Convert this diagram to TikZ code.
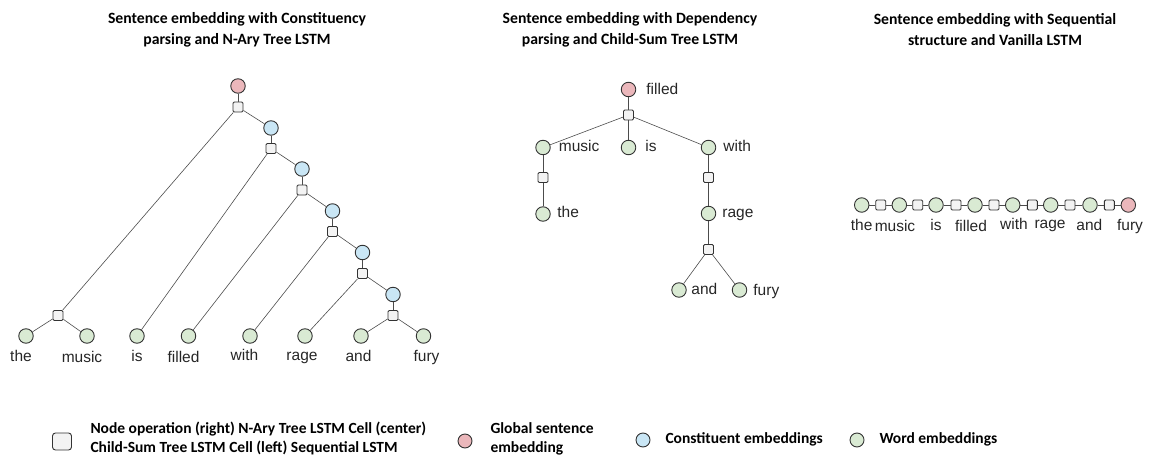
\documentclass[tikz,border=0pt]{standalone}
\usepackage{fontspec}
\setmainfont{Carlito}
\newfontfamily\labfont{Liberation Sans}
\definecolor{wordg}{HTML}{D9EAD3}
\definecolor{constb}{HTML}{C9E6F5}
\definecolor{globp}{HTML}{EBB7BB}
\definecolor{cellg}{HTML}{F3F3F3}
\definecolor{edgec}{HTML}{333333}
\begin{document}
\begin{tikzpicture}[x=1pt,y=-1pt,
  emb/.style={circle,draw=edgec,line width=0.9pt,minimum size=14.5pt,inner sep=0pt},
  gemb/.style={emb,fill=wordg},
  bemb/.style={emb,fill=constb},
  pemb/.style={emb,fill=globp},
  cell/.style={rectangle,rounded corners=1.3pt,draw=edgec,line width=0.9pt,fill=cellg,minimum size=10pt,inner sep=0pt},
  link/.style={draw=black!70,line width=0.6pt},
  lab/.style={font=\labfont\fontsize{15.5}{18}\selectfont,inner sep=0pt,text height=10.5pt,text depth=3pt,text=black!85},
  ttl/.style={font=\bfseries\fontsize{15.7}{21}\selectfont,align=center},
  leg/.style={font=\bfseries\fontsize{15.5}{19}\selectfont,align=left,anchor=west}]
\useasboundingbox (0,0) rectangle (1150,457);

% ---------- titles ----------
\node[ttl] (t1) at (237,29.5) {Sentence embedding with Constituency\\parsing and N-Ary Tree LSTM};
\node[ttl] (t2) at (630,29.5) {Sentence embedding with Dependency\\parsing and Child-Sum Tree LSTM};
\node[ttl] (t3) at (995,29.5) {Sentence embedding with Sequential\\structure and Vanilla LSTM};

% ---------- left tree ----------
\node[pemb] (r) at (238,86) {};
\node[cell] (rs) at (238,107) {};
\node[bemb] (b1) at (271,128) {};
\node[cell] (b1s) at (271,148.5) {};
\node[bemb] (b2) at (302,169) {};
\node[cell] (b2s) at (302,190) {};
\node[bemb] (b3) at (332.5,211) {};
\node[cell] (b3s) at (332.5,231.5) {};
\node[bemb] (b4) at (362.5,252.5) {};
\node[cell] (b4s) at (362.5,273.5) {};
\node[bemb] (b5) at (393,294.5) {};
\node[cell] (b5s) at (393,315.5) {};
\node[cell] (ls) at (58,315.5) {};
\node[gemb] (lthe) at (26,336) {};
\node[gemb] (lmusic) at (87,336) {};
\node[gemb] (lis) at (137,336) {};
\node[gemb] (lfilled) at (188.5,336) {};
\node[gemb] (lwith) at (250,336) {};
\node[gemb] (lrage) at (305,336) {};
\node[gemb] (land) at (361,336) {};
\node[gemb] (lfury) at (423.5,336) {};
\node[lab] (wthe) at (21,358) {the};
\node[lab] (wmusic) at (82,359) {music};
\node[lab] (wis) at (137,358) {is};
\node[lab] (wfilled) at (183.5,359) {filled};
\node[lab] (wwith) at (244.5,357) {with};
\node[lab] (wrage) at (302,356.5) {rage};
\node[lab] (wand) at (358.5,358) {and};
\node[lab] (wfury) at (426.5,358) {fury};

\draw[link] (r) -- (rs);
\draw[link] (rs) -- (b1);
\draw[link] (rs) -- (ls);
\draw[link] (ls) -- (lthe);
\draw[link] (ls) -- (lmusic);
\draw[link] (b1) -- (b1s);
\draw[link] (b1s) -- (b2);
\draw[link] (b1s) -- (lis);
\draw[link] (b2) -- (b2s);
\draw[link] (b2s) -- (b3);
\draw[link] (b2s) -- (lfilled);
\draw[link] (b3) -- (b3s);
\draw[link] (b3s) -- (b4);
\draw[link] (b3s) -- (lwith);
\draw[link] (b4) -- (b4s);
\draw[link] (b4s) -- (b5);
\draw[link] (b4s) -- (lrage);
\draw[link] (b5) -- (b5s);
\draw[link] (b5s) -- (land);
\draw[link] (b5s) -- (lfury);

% ---------- middle tree ----------
\node[pemb] (mroot) at (628.5,89.5) {};
\node[cell] (ms) at (628.5,115) {};
\node[gemb] (mmusic) at (543,147.5) {};
\node[gemb] (mis) at (628.5,147.5) {};
\node[gemb] (mwith) at (708.5,147.5) {};
\node[cell] (mms) at (543,177.5) {};
\node[gemb] (mthe) at (543,214) {};
\node[cell] (mws) at (708.5,177.5) {};
\node[gemb] (mrage) at (708.5,213.5) {};
\node[cell] (mrs) at (708.5,249.5) {};
\node[gemb] (mand) at (679,290) {};
\node[gemb] (mfury) at (739.5,290) {};
\node[lab,anchor=west] (nfilled) at ([xshift=10pt,yshift=-1pt]mroot.east) {filled};
\node[lab,anchor=west] (nmusic) at ([xshift=8pt]mmusic.east) {music};
\node[lab,anchor=west] (nis) at ([xshift=9pt]mis.east) {is};
\node[lab,anchor=west] (nwith) at ([xshift=7pt]mwith.east) {with};
\node[lab,anchor=west] (nthe) at ([xshift=6.5pt]mthe.east) {the};
\node[lab,anchor=west] (nrage) at ([xshift=6pt]mrage.east) {rage};
\node[lab,anchor=west] (nand) at ([xshift=4.5pt,yshift=-1pt]mand.east) {and};
\node[lab,anchor=west] (nfury) at ([xshift=6pt,yshift=-2pt]mfury.east) {fury};

\draw[link] (mroot) -- (ms);
\draw[link] (ms) -- (mmusic);
\draw[link] (ms) -- (mis);
\draw[link] (ms) -- (mwith);
\draw[link] (mmusic) -- (mms);
\draw[link] (mms) -- (mthe);
\draw[link] (mwith) -- (mws);
\draw[link] (mws) -- (mrage);
\draw[link] (mrage) -- (mrs);
\draw[link] (mrs) -- (mand);
\draw[link] (mrs) -- (mfury);

% ---------- right chain ----------
\node[gemb] (c1) at (861.7,205) {};
\node[cell] (s1) at (880.7,205) {};
\node[gemb] (c2) at (899.3,205) {};
\node[cell] (s2) at (917.7,205) {};
\node[gemb] (c3) at (936,205) {};
\node[cell] (s3) at (956,205) {};
\node[gemb] (c4) at (975,205) {};
\node[cell] (s4) at (994,205) {};
\node[gemb] (c5) at (1012.7,205) {};
\node[cell] (s5) at (1032.3,205) {};
\node[gemb] (c6) at (1050.7,205) {};
\node[cell] (s6) at (1070,205) {};
\node[gemb] (c7) at (1090,205) {};
\node[cell] (s7) at (1109.3,205) {};
\node[pemb] (c8) at (1128.3,205) {};
\node[lab] (qthe) at (861.7,227) {the};
\node[lab] (qmusic) at (895,227.5) {music};
\node[lab] (qis) at (936,227) {is};
\node[lab] (qfilled) at (971,227.5) {filled};
\node[lab] (qwith) at (1014,226) {with};
\node[lab] (qrage) at (1050,225) {rage};
\node[lab] (qand) at (1089.3,227) {and};
\node[lab] (qfury) at (1130,227) {fury};
\draw[link] (c1) -- (s1);
\draw[link] (s1) -- (c2);
\draw[link] (c2) -- (s2);
\draw[link] (s2) -- (c3);
\draw[link] (c3) -- (s3);
\draw[link] (s3) -- (c4);
\draw[link] (c4) -- (s4);
\draw[link] (s4) -- (c5);
\draw[link] (c5) -- (s5);
\draw[link] (s5) -- (c6);
\draw[link] (c6) -- (s6);
\draw[link] (s6) -- (c7);
\draw[link] (c7) -- (s7);
\draw[link] (s7) -- (c8);

% ---------- legend ----------
\node[cell,minimum width=19pt,minimum height=17pt,rounded corners=3pt] (kcell) at (62,441.5) {};
\node[leg] (kcelltxt) at (87,438.5) {Node operation (right) N-Ary Tree LSTM Cell (center)\\Child-Sum Tree LSTM Cell (left) Sequential LSTM};
\node[pemb,minimum size=14pt] (kglob) at (465,441) {};
\node[leg] (kglobtxt) at (487,438.5) {Global sentence\\embedding};
\node[bemb,minimum size=14pt] (kcons) at (643,440) {};
\node[leg] (kconstxt) at (662,439) {Constituent embeddings};
\node[gemb,minimum size=14pt] (kword) at (857,440) {};
\node[leg] (kwordtxt) at (876,439) {Word embeddings};
\end{tikzpicture}
\end{document}
